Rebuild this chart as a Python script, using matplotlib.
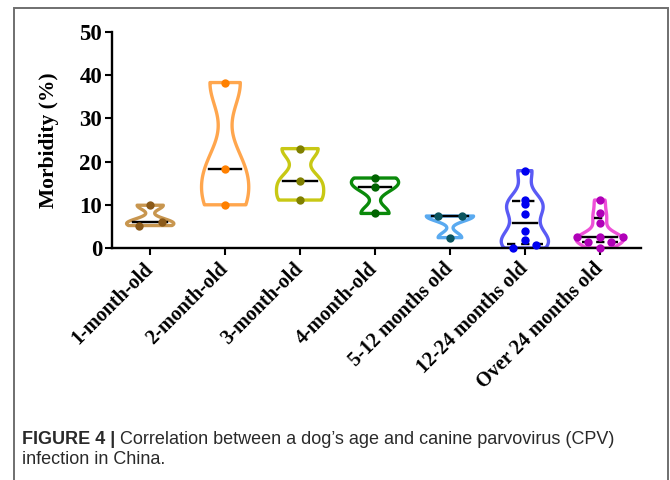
import numpy as np
import matplotlib
matplotlib.use("Agg")
import matplotlib.pyplot as plt
from matplotlib.patches import Rectangle
from matplotlib import mlab

categories = ["1-month-old", "2-month-old", "3-month-old", "4-month-old",
              "5-12 months old", "12-24 months old", "Over 24 months old"]
m1 = [5.2, 6.1, 9.9]
m2 = [10.0, 18.2, 38.3]
m3 = [11.1, 15.5, 23.0]
m4 = [8.0, 14.2, 16.2]
m5_12 = [2.4, 7.4, 7.4]
m12_24 = [0.0, 0.7, 1.8, 3.9, 7.8, 10.1, 11.1, 17.9]
over24 = [0.0, 1.5, 1.5, 2.5, 2.5, 2.5, 5.9, 8.2, 11.1]
groups = [m1, m2, m3, m4, m5_12, m12_24, over24]
yticks = [0, 10, 20, 30, 40, 50]

edge_colors = ["#C8964F", "#FFA64D", "#C8C814", "#0A8A0A", "#5AAAF0", "#5A5AF5", "#EE50D8"]
dot_colors = ["#8B5A1A", "#FF8000", "#808000", "#006400", "#0B5560", "#0000F0", "#B000B8"]

serif = ["Liberation Serif", "DejaVu Serif"]
sans = ["Liberation Sans", "DejaVu Sans"]

fig = plt.figure(figsize=6.7 * np.array([1, 480 / 670]), dpi=100)
fig.patch.set_facecolor("white")
ax = fig.add_axes([112 / 670, 1 - 248 / 480, (641 - 112) / 670, (248 - 32) / 480])

positions = np.arange(1, len(groups) + 1)
width = 0.63
bw = 0.4
parts = ax.violinplot(groups, positions=positions, widths=width, bw_method=bw,
                      showextrema=False, showmedians=False)
for body, ec in zip(parts["bodies"], edge_colors):
    body.set_facecolor("none")
    body.set_edgecolor(ec)
    body.set_linewidth(2.4)
    body.set_alpha(1)
    body.set_joinstyle("round")


def half_width(vals, y):
    kde = mlab.GaussianKDE(np.asarray(vals, float), bw)
    grid = np.linspace(min(vals), max(vals), 100)
    d = kde.evaluate(grid)
    return width / 2 * kde.evaluate(np.atleast_1d(y)) / d.max()


def swarm_offsets(vals, tol=0.95, step=0.31):
    vals = np.asarray(vals, float)
    order = np.argsort(vals, kind="stable")
    offs = np.zeros(len(vals))
    i = 0
    while i < len(order):
        j = i
        while j + 1 < len(order) and vals[order[j + 1]] - vals[order[i]] < tol:
            j += 1
        k = j - i + 1
        o = (np.arange(k) - (k - 1) / 2) * step
        for n, idx in enumerate(order[i:j + 1]):
            offs[idx] = o[n]
        i = j + 1
    return offs


for p, vals, dc in zip(positions, groups, dot_colors):
    med = np.median(vals)
    hw = half_width(vals, med)[0] * 0.78
    ax.plot([p - hw, p + hw], [med, med], color="black", lw=1.7, zorder=3)
    if len(vals) > 3:
        q1, q3 = np.percentile(vals, [25, 75], method="weibull")
        for q in (q1, q3):
            hq = half_width(vals, q)[0] * 0.78
            ax.plot([p - hq, p + hq], [q, q], color="black", lw=1.7,
                    ls=(0, (3.5, 2.5)), zorder=3)
    offs = swarm_offsets(vals)
    ax.plot(p + offs, vals, "o", color=dc, ms=6.0, mec="none", zorder=4,
            clip_on=False)

ax.set_xlim(0.49, 7.55)
ax.set_ylim(0, 50)
ax.set_yticks(yticks)
ax.set_xticks(positions)
ax.set_yticklabels([str(t) for t in yticks], fontfamily=serif, fontweight="bold",
                   fontsize=16.5)
ax.set_xticklabels(categories, rotation=45, ha="right", va="center",
                   rotation_mode="anchor", fontfamily=serif, fontweight="bold",
                   fontsize=14.5)
ax.set_ylabel("Morbidity (%)", fontfamily=serif, fontweight="bold", fontsize=15.5,
              labelpad=15)
for s in ("top", "right"):
    ax.spines[s].set_visible(False)
for s in ("left", "bottom"):
    ax.spines[s].set_linewidth(1.7)
ax.tick_params(axis="both", width=1.5, length=5, colors="black", pad=2)
ax.tick_params(axis="x", pad=8)

# frame around figure panel
fig.add_artist(Rectangle((14 / 670, -0.05), (668 - 14) / 670, 1.05 - 8 / 480,
                         transform=fig.transFigure, fill=False,
                         edgecolor="#6f6f6f", lw=1.4))

t1 = fig.text(22 / 670, 1 - 439 / 480, "FIGURE 4 |", fontfamily=sans,
              fontweight="bold", fontsize=13, va="center", ha="left", color="#2a2a2a")
ax.annotate(" Correlation between a dog\u2019s age and canine parvovirus (CPV)",
            xy=(1, 0.5), xycoords=t1, va="center", ha="left", fontfamily=sans,
            fontsize=13, color="#2a2a2a", annotation_clip=False)
fig.text(22 / 670, 1 - 460 / 480, "infection in China.", fontfamily=sans,
         fontsize=13, va="center", ha="left", color="#2a2a2a")

fig.savefig("out.png", dpi=100, facecolor="white")
